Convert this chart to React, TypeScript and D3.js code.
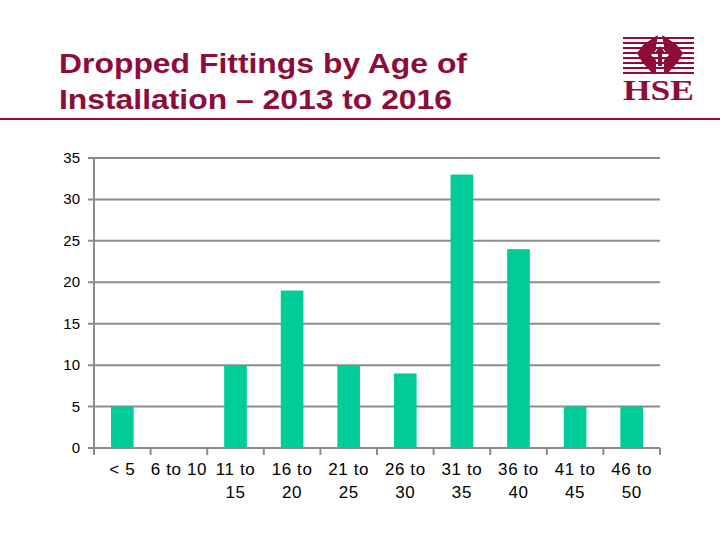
import React from "react";
import * as d3 from "d3";

const categories = ["< 5", "6 to 10", "11 to 15", "16 to 20", "21 to 25", "26 to 30", "31 to 35", "36 to 40", "41 to 45", "46 to 50"];
const labelLines = [["< 5"], ["6 to 10"], ["11 to", "15"], ["16 to", "20"], ["21 to", "25"], ["26 to", "30"], ["31 to", "35"], ["36 to", "40"], ["41 to", "45"], ["46 to", "50"]];
const values = [5, 0, 10, 19, 10, 9, 33, 24, 5, 5];
const yTicks = [0, 5, 10, 15, 20, 25, 30, 35];

const MAROON = "#8e0c3a";
const BAR = "#00cc99";
const GRID = "#8c8c8c";

export default function App() {
  const x = d3.scaleBand<string>().domain(categories).range([94, 660]).paddingInner(0.6).paddingOuter(0.3);
  const band = d3.scaleBand<string>().domain(categories).range([94, 660]);
  const y = d3.scaleLinear().domain([0, 35]).range([448, 158]);
  const font = "Arial, 'Liberation Sans', sans-serif";

  const stripes = [38, 43, 48, 53, 58, 63, 68, 73];
  return (
    <svg width={720} height={540} style={{ position: "absolute", left: 0, top: 0, background: "#fff" }}>
      <text x={59} y={73} fill={MAROON} fontFamily={font} fontWeight="bold" fontSize={27} textLength={408} lengthAdjust="spacingAndGlyphs">Dropped Fittings by Age of</text>
      <text x={59} y={109} fill={MAROON} fontFamily={font} fontWeight="bold" fontSize={27} textLength={393} lengthAdjust="spacingAndGlyphs">Installation – 2013 to 2016</text>
      <line x1={0} x2={720} y1={119} y2={119} stroke={MAROON} strokeWidth={2} />

      {/* logo */}
      <g>
        {stripes.map((s) => (
          <line key={s} x1={623} x2={694} y1={s} y2={s} stroke={MAROON} strokeWidth={2} />
        ))}
        <path d="M658,35 L644,44 L637,53 L642,62 L652,73 L656,73 L656,60 L651,55 L656,50 L656,46 Z" fill={MAROON} />
        <path d="M662,35 L676,44 L683,53 L678,62 L668,73 L664,73 L664,60 L669,55 L664,50 L664,46 Z" fill={MAROON} />
        <path d="M660,46 L654,54 L658,54 L658,66 L662,66 L662,54 L666,54 Z" fill={MAROON} />
        <text x={623} y={100} fill={MAROON} fontFamily="'Liberation Serif', 'DejaVu Serif', serif" fontWeight="bold" fontSize={30} textLength={71} lengthAdjust="spacingAndGlyphs">HSE</text>
      </g>

      {yTicks.map((t) => (
        <g key={t}>
          <line x1={88} x2={660} y1={y(t)} y2={y(t)} stroke={GRID} strokeWidth={2} />
          <text x={80} y={y(t) + 5} textAnchor="end" fontFamily={font} fontSize={15} fill="#000">{t}</text>
        </g>
      ))}
      <line x1={94} x2={94} y1={158} y2={455} stroke={GRID} strokeWidth={2} />
      {categories.map((c) => (
        <line key={c} x1={(band(c) as number) + band.bandwidth()} x2={(band(c) as number) + band.bandwidth()} y1={448} y2={455} stroke={GRID} strokeWidth={2} />
      ))}
      {categories.map((c, i) => (
        <rect key={c} x={x(c)} y={y(values[i])} width={x.bandwidth()} height={y(0) - y(values[i])} fill={BAR} />
      ))}
      {categories.map((c, i) => (
        <text key={c} textAnchor="middle" fontFamily={font} fontSize={17} letterSpacing={0.6} fill="#000">
          {labelLines[i].map((l, j) => (
            <tspan key={j} x={(band(c) as number) + band.bandwidth() / 2} y={475 + j * 23}>{l}</tspan>
          ))}
        </text>
      ))}
    </svg>
  );
}
